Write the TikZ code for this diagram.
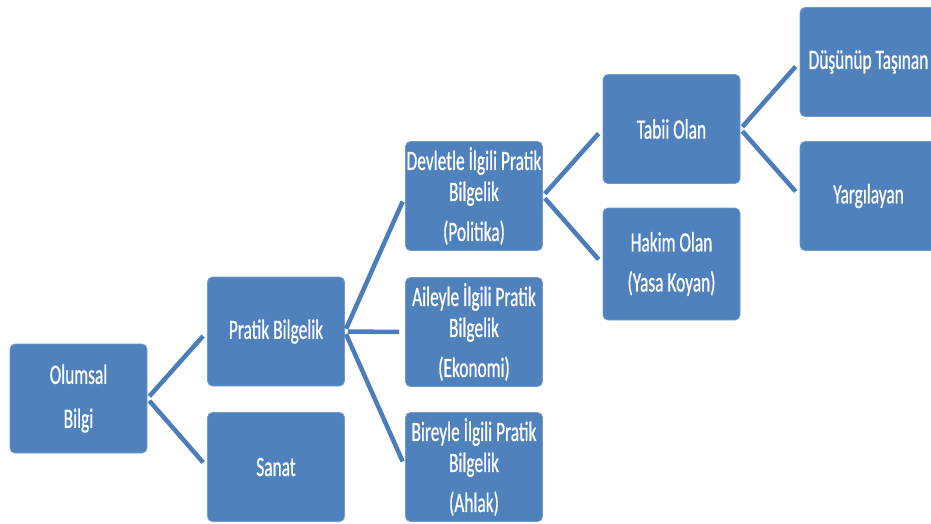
\documentclass[tikz,border=0pt]{standalone}
\usepackage{fontspec}
\newfontfamily\boxfont{Carlito}[FakeStretch=0.62,FakeBold=0.6]
\definecolor{boxblue}{HTML}{4F81BD}
\definecolor{lineblue}{HTML}{4A7DBA}
\begin{document}
\begin{tikzpicture}[x=1pt,y=-1pt,
  box/.style={draw=boxblue!80!white, line width=0.8pt, fill=boxblue, rounded corners=5pt,
    minimum width=137pt, minimum height=109pt, inner sep=0pt, text=white, align=center,
    font=\boxfont\fontsize{28}{31}\selectfont},
  link/.style={draw=lineblue, line width=4.5pt, shorten <=3pt, shorten >=6pt}]
\useasboundingbox (0,0) rectangle (931,523);
\clip (0,0) rectangle (931,523);
\node[box] (o) at (78.5,398.5) {Olumsal\\[13pt]Bilgi};
\node[box] (p) at (276,331.5) {Pratik Bilgelik};
\node[box] (s) at (276,467) {Sanat};
\node[box] (d) at (474,196) {Devletle İlgili Pratik\\Bilgelik\\[9pt](Politika)};
\node[box] (a) at (474,332) {Aileyle İlgili Pratik\\Bilgelik\\[9pt](Ekonomi)};
\node[box] (b) at (474,467) {Bireyle İlgili Pratik\\Bilgelik\\[9pt](Ahlak)};
\node[box] (t) at (671.5,129) {Tabii Olan};
\node[box, minimum height=112pt] (h) at (671.5,264) {Hakim Olan\\[9pt](Yasa Koyan)};
\node[box] (u) at (868.5,62) {Düşünüp Taşınan};
\node[box] (y) at (868.5,196) {Yargılayan};
\draw[link] (o.east) -- (p.west);
\draw[link] (o.east) -- (s.west);
\draw[link] (p.east) -- (d.west);
\draw[link] (p.east) -- (a.west);
\draw[link] (p.east) -- (b.west);
\draw[link] (d.east) -- (t.west);
\draw[link] (d.east) -- (h.west);
\draw[link] (t.east) -- (u.west);
\draw[link] (t.east) -- (y.west);
\end{tikzpicture}
\end{document}
